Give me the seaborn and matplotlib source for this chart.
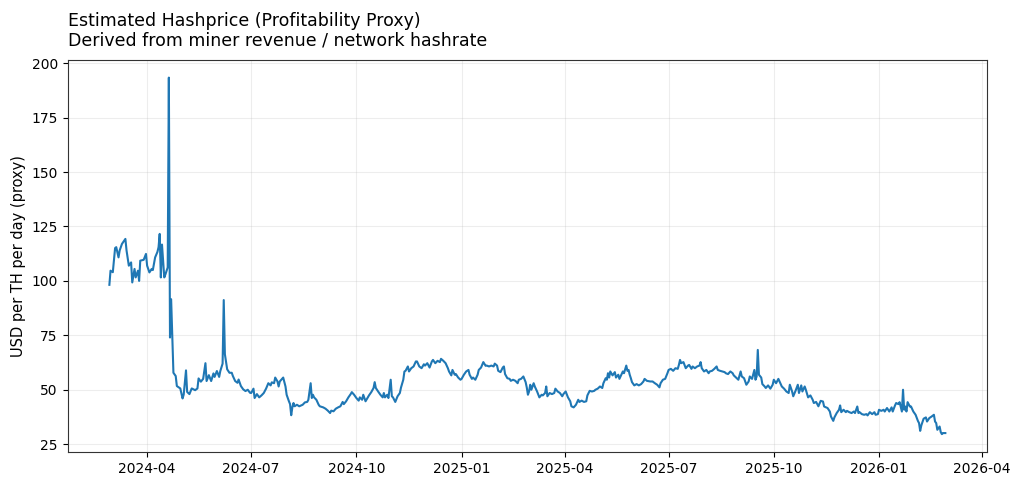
import numpy as np
import pandas as pd
import matplotlib
matplotlib.use("Agg")
import matplotlib.pyplot as plt
import matplotlib.dates as mdates
import seaborn as sns

start_date = "2024-02-28"

days = [0, 1, 3, 5, 6, 8, 9, 11, 14, 15, 17, 19, 20, 22, 23, 25, 26, 27, 30, 32, 33, 35, 37, 38, 40, 42, 43, 44, 45, 46, 48, 49, 51, 52, 53, 54, 55, 56, 58, 59, 62, 64, 65, 67, 68, 70, 72, 75, 77, 78, 80, 82, 84, 85, 87, 89, 91, 92, 94, 96, 97, 99, 100, 101, 103, 105, 107, 108, 110, 112, 113, 115, 117, 119, 121, 123,
        124, 126, 127, 129, 131, 133, 135, 137, 139, 141, 142, 144, 145, 147, 148, 149, 151, 152, 154, 155, 157, 158, 159, 160, 161, 162, 164, 166, 169, 171, 173, 174, 176, 177, 178, 179, 181, 183, 184, 187, 189, 191, 193, 194, 196, 198, 200, 202, 204, 205, 207, 209, 211, 212, 214, 216, 218, 219, 221, 222, 224, 226, 227, 229, 231, 232, 233, 235, 237, 239, 240, 241, 243, 244, 246, 247, 248, 250, 252, 254, 255, 257, 258, 259, 261, 262, 264, 266, 268, 269, 271, 273, 275, 276, 278, 280, 282, 283, 285, 287, 289,
        290, 292, 294, 296, 297, 299, 300, 302, 303, 305, 307, 308, 310, 312, 314, 315, 317, 318, 320, 322, 323, 325, 327, 329, 330, 332, 334, 336, 337, 339, 340, 342, 344, 345, 346, 348, 350, 351, 353, 355, 357, 358, 360, 362, 364, 365, 366, 367, 368, 369, 371, 372, 374, 376, 378, 379, 381, 382, 383, 385, 387, 389, 390, 392, 394, 396, 397, 399, 401, 403, 404, 406, 408, 410, 411, 413, 415, 417, 418, 420, 422, 424, 425, 427, 429, 431, 432, 434, 435, 436, 437, 438, 440, 442, 443, 445, 446, 448, 449, 450, 452, 453, 454, 455,
        456, 457, 459, 461, 463, 465, 467, 468, 470, 473, 475, 477, 479, 481, 482, 484, 486, 488, 489, 491, 493, 495, 497, 498, 499, 500, 502, 504, 506, 507, 509, 510, 512, 514, 516, 517, 518, 520, 522, 524, 525, 527, 529, 531, 532, 534, 536, 538, 539, 541, 543, 545, 546, 548, 550, 552, 553, 555, 557, 559, 560, 562, 564, 565, 566, 567, 568, 570, 571, 573, 574, 576, 578, 580, 581, 583, 585, 587, 588, 590, 592, 594, 595, 597, 598, 600, 602, 603, 605, 606, 608, 609, 611, 613, 615, 616, 618, 620,
        622, 624, 625, 628, 630, 631, 633, 634, 636, 638, 639, 640, 642, 644, 645, 647, 649, 651, 652, 654, 655, 656, 658, 660, 662, 663, 665, 667, 669, 670, 672, 673, 675, 677, 678, 680, 682, 684, 685, 687, 688, 690, 691, 693, 694, 695, 696, 697, 698, 700, 701, 703, 705, 707, 708, 709, 710, 712, 714, 715, 717, 719, 721, 722, 723, 724, 726, 727, 728, 729, 731]

hashprice = [98.2, 104.7, 104.0, 115.1, 115.5, 110.8, 114.0, 117.0, 119.3, 114.0, 107.0, 108.5, 99.3, 105.5, 101.6, 104.7, 100.0, 109.3, 109.7, 112.4, 107.0, 103.9, 105.5, 105.0, 110.8, 113.3, 115.5, 121.6, 101.6, 116.7, 101.6, 103.0, 106.2, 193.4, 74.0, 91.6, 74.0, 57.8, 56.3, 51.7, 50.6, 46.0, 47.8, 58.9, 49.0, 48.0, 50.6, 49.8, 50.6, 55.2, 53.7, 55.0, 62.2, 54.0, 56.7, 54.0, 57.5, 55.9, 58.6, 55.9, 58.6, 62.0, 91.2, 66.3, 59.4, 57.8, 57.8, 56.3, 54.0, 53.2, 54.7, 51.7, 50.2, 49.4, 50.0, 48.6,
             48.5, 50.5, 46.2, 48.0, 46.5, 47.4, 48.5, 50.5, 53.0, 52.0, 53.4, 53.0, 55.6, 53.8, 51.5, 53.8, 55.0, 55.6, 51.5, 47.7, 44.7, 43.4, 38.3, 41.9, 43.9, 42.4, 43.1, 42.4, 43.1, 44.2, 44.4, 45.4, 53.0, 46.2, 47.7, 46.5, 45.4, 43.1, 42.4, 41.9, 41.3, 40.4, 39.3, 40.4, 40.1, 41.3, 41.9, 42.4, 44.4, 43.4, 44.7, 46.5, 48.0, 48.9, 47.7, 46.2, 45.0, 46.5, 45.4, 47.7, 44.7, 46.5, 47.4, 48.9, 50.8, 53.5, 50.8, 49.2, 47.7, 46.5, 48.5, 46.5, 47.7, 46.2, 54.6, 47.0, 46.5, 44.4, 47.0, 48.5, 51.0, 54.6, 58.4, 58.7, 60.7, 58.4, 59.9, 60.7, 63.0, 63.0, 60.7, 59.9, 61.7, 61.1, 62.2, 60.2, 63.0, 63.7, 62.2, 63.3, 62.7,
             64.2, 63.3, 62.2, 59.9, 58.4, 56.6, 59.1, 56.9, 57.2, 55.6, 54.6, 55.0, 56.9, 58.4, 59.1, 56.9, 55.0, 55.6, 54.6, 56.9, 59.1, 60.2, 62.7, 61.0, 61.1, 60.7, 61.1, 60.7, 62.0, 61.1, 58.7, 58.1, 60.2, 60.7, 57.2, 55.3, 55.0, 54.1, 54.6, 54.1, 53.0, 54.6, 55.0, 56.1, 53.5, 51.0, 47.7, 49.2, 52.3, 50.0, 53.0, 51.5, 49.2, 46.5, 47.7, 47.4, 48.5, 51.5, 47.0, 48.5, 48.0, 48.5, 50.5, 49.2, 48.5, 47.0, 48.0, 49.2, 46.5, 44.7, 42.4, 41.9, 43.1, 45.4, 44.4, 45.0, 44.4, 44.7, 47.4, 49.5, 49.2, 49.5, 50.0, 50.5, 51.5, 50.8, 53.0, 55.3, 54.6, 57.6, 55.6, 58.4, 56.6, 58.1, 55.6, 56.9, 55.0, 57.2, 58.4, 57.6, 61.1, 58.7, 59.1, 56.9,
             55.3, 53.5, 52.0, 52.6, 52.0, 52.6, 53.8, 55.0, 54.1, 53.8, 53.8, 53.0, 52.3, 51.1, 53.0, 54.6, 55.0, 57.6, 59.1, 59.6, 58.7, 59.9, 59.6, 61.4, 63.7, 62.2, 62.7, 59.9, 61.1, 61.4, 59.6, 60.7, 59.9, 60.7, 61.1, 62.7, 59.9, 58.4, 59.1, 57.6, 58.4, 58.7, 59.6, 60.7, 59.1, 58.7, 58.4, 58.1, 57.6, 57.2, 58.4, 57.6, 56.6, 55.6, 54.6, 58.4, 56.1, 55.3, 52.3, 53.8, 56.1, 55.0, 59.1, 54.6, 56.1, 68.3, 56.9, 55.6, 52.6, 51.5, 50.8, 52.0, 50.5, 52.3, 54.6, 53.0, 55.0, 52.6, 51.5, 50.5, 49.2, 48.5, 52.3, 49.2, 47.0, 49.5, 52.3, 48.5, 52.0, 49.2, 51.5, 50.0, 46.5, 47.4, 45.4, 43.9, 44.4, 42.4,
             44.9, 44.6, 42.3, 41.6, 40.0, 37.7, 35.7, 37.3, 39.3, 40.8, 42.8, 39.7, 40.8, 39.7, 40.3, 39.7, 39.3, 40.0, 39.3, 42.3, 39.3, 39.7, 38.8, 38.5, 38.8, 38.2, 39.7, 38.8, 39.7, 38.5, 38.8, 40.8, 40.3, 40.8, 40.0, 41.6, 40.0, 41.9, 40.0, 42.8, 43.9, 43.4, 44.3, 40.0, 50.0, 40.8, 42.3, 40.0, 44.3, 42.3, 42.3, 40.0, 38.5, 35.7, 34.7, 31.1, 33.6, 36.7, 37.3, 35.4, 37.0, 37.7, 38.5, 35.4, 34.7, 31.6, 33.1, 30.5, 29.6, 30.1, 30.1]

title_text = "Estimated Hashprice (Profitability Proxy)\nDerived from miner revenue / network hashrate"
y_label = "USD per TH per day (proxy)"

df = pd.DataFrame({
    "date": pd.Timestamp(start_date) + pd.to_timedelta(days, unit="D"),
    "hashprice": hashprice,
})

fig, ax = plt.subplots(figsize=(10.24, 4.86), dpi=100)
fig.subplots_adjust(left=0.066, right=0.964, top=0.877, bottom=0.07)

sns.lineplot(data=df, x="date", y="hashprice", ax=ax, color="#1f77b4", linewidth=1.5)

ax.set_title(title_text, loc="left", fontsize=12.5, pad=10, linespacing=1.15)
ax.set_ylabel(y_label, fontsize=10.5)
ax.set_xlabel("")
ax.set_yticks([25, 50, 75, 100, 125, 150, 175, 200])
ax.xaxis.set_major_locator(mdates.MonthLocator(bymonth=[1, 4, 7, 10]))
ax.xaxis.set_major_formatter(mdates.DateFormatter("%Y-%m"))
ax.grid(True, alpha=0.22)
for s in ax.spines.values():
    s.set_color("#333333")
ax.tick_params(labelsize=10)

fig.savefig("out.png", dpi=100)
